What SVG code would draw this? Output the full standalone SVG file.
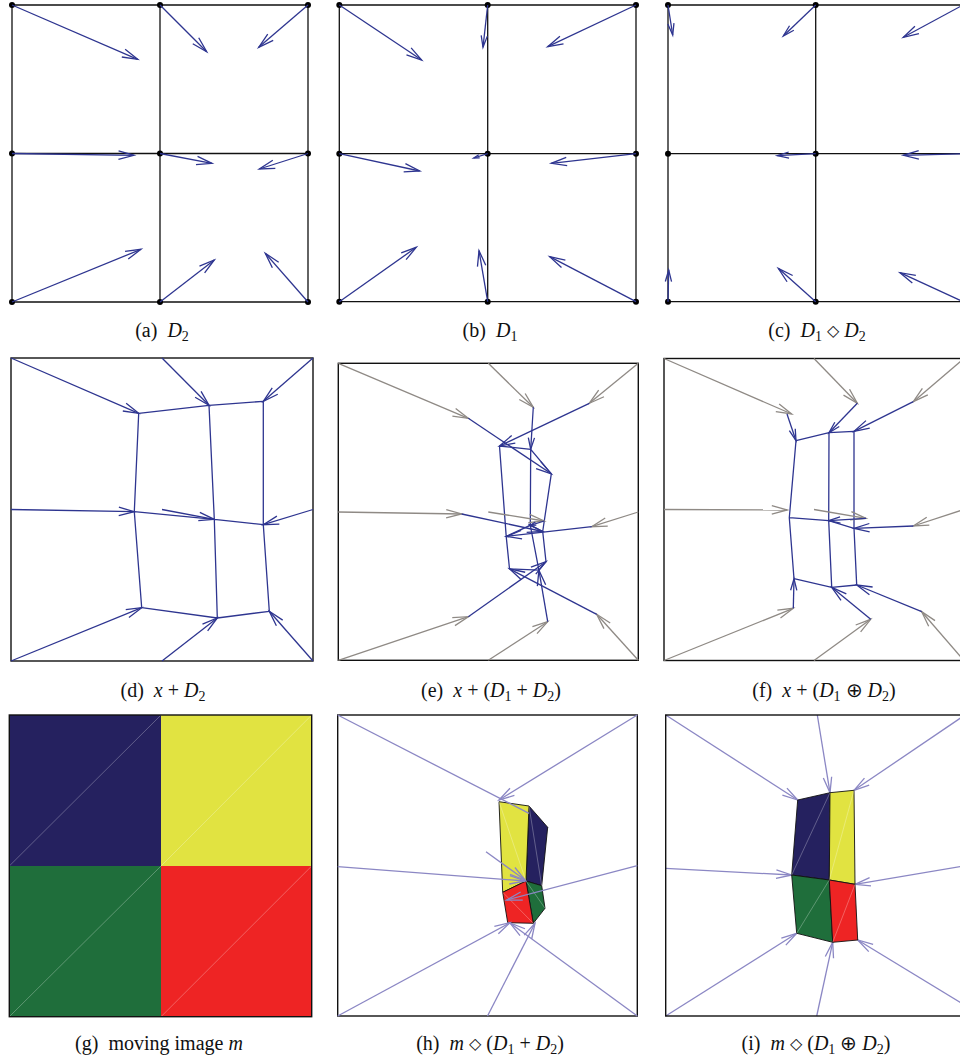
<svg xmlns="http://www.w3.org/2000/svg" width="960" height="1061" viewBox="0 0 960 1061">
<style>
.grid{stroke:#111;stroke-width:1.3;fill:none}
.frame{stroke:#111;stroke-width:1.4;fill:none}
.dot{fill:#000}
.ab{stroke:#2e3590;stroke-width:1.3;fill:none}
.ag{stroke:#8f8a85;stroke-width:1.3;fill:none}
.al{stroke:#8b87c4;stroke-width:1.3;fill:none}
.edge{stroke:#111;stroke-width:0.9}
.diag{stroke:#ffffff;stroke-opacity:0.4;stroke-width:0.7}
.cap{font-family:"Liberation Serif","Times New Roman",serif;font-size:20px;fill:#111;text-anchor:middle;white-space:pre}
.i{font-style:italic}
.s{font-size:14px}
.op{font-family:"DejaVu Sans",sans-serif;font-size:16px}
</style>
<defs>
<marker id="bL" markerUnits="userSpaceOnUse" orient="auto" overflow="visible" markerWidth="1" markerHeight="1"><path d="M-15.5,-4.2L0,0L-15.5,4.2" fill="none" stroke="#2e3590" stroke-width="1.3"/></marker>
<marker id="bM" markerUnits="userSpaceOnUse" orient="auto" overflow="visible" markerWidth="1" markerHeight="1"><path d="M-11.6,-3.1L0,0L-11.6,3.1" fill="none" stroke="#2e3590" stroke-width="1.3"/></marker>
<marker id="bS" markerUnits="userSpaceOnUse" orient="auto" overflow="visible" markerWidth="1" markerHeight="1"><path d="M-5.8,-1.6L0,0L-5.8,1.6" fill="none" stroke="#2e3590" stroke-width="1.3"/></marker>
<marker id="gL" markerUnits="userSpaceOnUse" orient="auto" overflow="visible" markerWidth="1" markerHeight="1"><path d="M-15.5,-4.2L0,0L-15.5,4.2" fill="none" stroke="#8f8a85" stroke-width="1.3"/></marker>
<marker id="lL" markerUnits="userSpaceOnUse" orient="auto" overflow="visible" markerWidth="1" markerHeight="1"><path d="M-15.5,-4.2L0,0L-15.5,4.2" fill="none" stroke="#8b87c4" stroke-width="1.3"/></marker>
</defs>
<rect width="960" height="1061" fill="#fff"/>

<!-- (a) D2 -->
<g id="panel-a">
<path class="grid" d="M12,5H308M12,153.5H308M12,302H308M12,5V302M160,5V302M308,5V302"/>
<g class="dot"><circle cx="12" cy="5" r="3"/><circle cx="160" cy="5" r="3"/><circle cx="308" cy="5" r="3"/><circle cx="12" cy="153.5" r="3"/><circle cx="160" cy="153.5" r="3"/><circle cx="308" cy="153.5" r="3"/><circle cx="12" cy="302" r="3"/><circle cx="160" cy="302" r="3"/><circle cx="308" cy="302" r="3"/></g>
</g>
<g id="connectors-a" class="ab" marker-end="url(#bL)">
<line x1="12" y1="5" x2="137.7" y2="59.3"/>
<line x1="160" y1="5" x2="206.7" y2="51.7"/>
<line x1="308" y1="5" x2="258.7" y2="47.3"/>
<line x1="12" y1="153.5" x2="134" y2="155.3"/>
<line x1="160" y1="153.5" x2="212" y2="163.3"/>
<line x1="308" y1="153.5" x2="259.3" y2="169"/>
<line x1="12" y1="302" x2="141" y2="249.3"/>
<line x1="160" y1="302" x2="214.3" y2="260"/>
<line x1="308" y1="302" x2="265.3" y2="253.3"/>
</g>

<!-- (b) D1 -->
<g id="panel-b">
<path class="grid" d="M339.3,5H636M339.3,153.7H636M339.3,301.7H636M339.3,5V301.7M487.7,5V301.7M636,5V301.7"/>
<g class="dot"><circle cx="339.3" cy="5" r="3"/><circle cx="487.7" cy="5" r="3"/><circle cx="636" cy="5" r="3"/><circle cx="339.3" cy="153.7" r="3"/><circle cx="487.7" cy="153.7" r="3"/><circle cx="636" cy="153.7" r="3"/><circle cx="339.3" cy="301.7" r="3"/><circle cx="487.7" cy="301.7" r="3"/><circle cx="636" cy="301.7" r="3"/></g>
</g>
<g id="connectors-b" class="ab" marker-end="url(#bL)">
<line x1="339.3" y1="5" x2="421.7" y2="60"/>
<line x1="487.7" y1="5" x2="483" y2="47.3" marker-end="url(#bM)"/>
<line x1="636" y1="5" x2="547.7" y2="46.7"/>
<line x1="339.3" y1="153.7" x2="419.7" y2="171"/>
<line x1="487.7" y1="153.7" x2="473.7" y2="158" marker-end="url(#bS)"/>
<line x1="636" y1="153.7" x2="551.3" y2="163.3"/>
<line x1="339.3" y1="301.7" x2="416.3" y2="247.3"/>
<line x1="487.7" y1="301.7" x2="479" y2="250.7"/>
<line x1="636" y1="301.7" x2="549.7" y2="256.7"/>
</g>

<!-- (c) D1 <> D2 -->
<g id="panel-c">
<path class="grid" d="M668,5H963M668,153.7H963M668,301.7H963M668,5V301.7M815.7,5V301.7M963,5V301.7"/>
<g class="dot"><circle cx="668" cy="5" r="3"/><circle cx="815.7" cy="5" r="3"/><circle cx="668" cy="153.7" r="3"/><circle cx="815.7" cy="153.7" r="3"/><circle cx="668" cy="301.7" r="3"/><circle cx="815.7" cy="301.7" r="3"/></g>
</g>
<g id="connectors-c" class="ab" marker-end="url(#bL)">
<line x1="668" y1="5" x2="672.7" y2="35" marker-end="url(#bM)"/>
<line x1="815.7" y1="5" x2="783.3" y2="36" marker-end="url(#bM)"/>
<line x1="963" y1="5" x2="903.3" y2="37.3"/>
<line x1="815.7" y1="153.7" x2="777.3" y2="155.7" marker-end="url(#bM)"/>
<line x1="963" y1="153.7" x2="903.3" y2="155.3"/>
<line x1="668" y1="301.7" x2="668.7" y2="270" marker-end="url(#bM)"/>
<line x1="815.7" y1="301.7" x2="778.3" y2="268.3"/>
<line x1="963" y1="301.7" x2="900" y2="272.7"/>
</g>

<!-- (d) x + D2 -->
<g id="panel-d">
<rect class="frame" x="11" y="358" width="302" height="303"/>
<path class="ab" d="M138.7,413.3L209,405.3L263.3,401.3M134.3,511.7L214.3,519.3L263.3,524.7M141.7,607.7L217.3,618L269.3,611.3M138.7,413.3L134.3,511.7L141.7,607.7M209,405.3L214.3,519.3L217.3,618M263.3,401.3L263.3,524.7L269.3,611.3"/>
</g>
<g id="connectors-d" class="ab" marker-end="url(#bL)">
<line x1="11" y1="358" x2="138.7" y2="413.3"/>
<line x1="162" y1="358" x2="209" y2="405.3"/>
<line x1="313" y1="358" x2="263.3" y2="401.3"/>
<line x1="11" y1="509.5" x2="134.3" y2="511.7"/>
<line x1="162" y1="509.5" x2="214.3" y2="519.3"/>
<line x1="313" y1="509.5" x2="263.3" y2="524.7"/>
<line x1="11" y1="661" x2="141.7" y2="607.7"/>
<line x1="162" y1="661" x2="217.3" y2="618"/>
<line x1="313" y1="661" x2="269.3" y2="611.3"/>
</g>

<!-- (e) x + (D1 + D2) -->
<g id="panel-e">
<rect class="frame" x="338.3" y="363.3" width="300" height="297"/>
<path class="ab" d="M551.3,473.8L530.7,449.3L499.5,446M542.7,531.5L530.3,525.3L506.2,536.4M546,561.7L538.9,570.2L509.5,568.8M551.3,473.8L542.7,531.5L546,561.7M530.7,449.3L530.3,525.3L538.9,570.2M499.5,446L506.2,536.4L509.5,568.8"/>
</g>
<g id="connectors-e-grey" class="ag" marker-end="url(#gL)">
<line x1="338.3" y1="363.3" x2="468.3" y2="418.3"/>
<line x1="488.3" y1="363.3" x2="533.3" y2="407.3"/>
<line x1="638.3" y1="363.3" x2="589.3" y2="403.3"/>
<line x1="338.3" y1="512" x2="461.7" y2="514"/>
<line x1="488.3" y1="512" x2="544.3" y2="521"/>
<line x1="638.3" y1="512" x2="591.7" y2="526.7"/>
<line x1="338.3" y1="660.3" x2="468.3" y2="616.7"/>
<line x1="488.3" y1="660.3" x2="547.7" y2="621.7"/>
<line x1="638.3" y1="660.3" x2="596.7" y2="614.3"/>
</g>
<g id="connectors-e-blue" class="ab" marker-end="url(#bL)">
<line x1="468.3" y1="418.3" x2="551.3" y2="473.8"/>
<line x1="533.3" y1="407.3" x2="530.7" y2="449.3" marker-end="url(#bM)"/>
<line x1="589.3" y1="403.3" x2="499.5" y2="446"/>
<line x1="461.7" y1="514" x2="542.7" y2="531.5"/>
<line x1="544.3" y1="521" x2="530.3" y2="525.3" marker-end="url(#bS)"/>
<line x1="591.7" y1="526.7" x2="506.2" y2="536.4"/>
<line x1="468.3" y1="616.7" x2="546" y2="561.7"/>
<line x1="547.7" y1="621.7" x2="538.9" y2="570.2"/>
<line x1="596.7" y1="614.3" x2="509.5" y2="568.8"/>
</g>

<!-- (f) x + (D1 (+) D2) -->
<g id="panel-f">
<rect class="frame" x="664" y="358.5" width="300" height="302"/>
<path class="ab" d="M796,440.7L829,432.7L854,431.3M789.3,517.7L828.7,520.7L854,528.3M794,578.7L831.7,587.3L856.7,585M796,440.7L789.3,517.7L794,578.7M829,432.7L828.7,520.7L831.7,587.3M854,431.3L854,528.3L856.7,585"/>
</g>
<g id="connectors-f-grey" class="ag" marker-end="url(#gL)">
<line x1="664" y1="358.5" x2="791.7" y2="414"/>
<line x1="814" y1="358.5" x2="857.3" y2="403.3"/>
<line x1="964" y1="358.5" x2="913.3" y2="401.7"/>
<line x1="664" y1="509.5" x2="787.3" y2="510"/>
<line x1="814" y1="509.5" x2="866" y2="518.3"/>
<line x1="964" y1="509.5" x2="913.3" y2="526"/>
<line x1="664" y1="660.5" x2="793.3" y2="608.3"/>
<line x1="814" y1="660.5" x2="870.7" y2="619.3"/>
<line x1="964" y1="660.5" x2="921.7" y2="611.7"/>
</g>
<g id="connectors-f-blue" class="ab" marker-end="url(#bM)">
<line x1="787" y1="414" x2="796" y2="440.7"/>
<line x1="857.3" y1="403.3" x2="829" y2="432.7"/>
<line x1="913.3" y1="401.7" x2="854" y2="431.3" marker-end="url(#bL)"/>
<line x1="866" y1="518.3" x2="828.7" y2="520.7"/>
<line x1="913.3" y1="526" x2="854" y2="528.3" marker-end="url(#bL)"/>
<line x1="793.3" y1="608.3" x2="794" y2="578.7"/>
<line x1="870.7" y1="619.3" x2="831.7" y2="587.3" marker-end="url(#bL)"/>
<line x1="921.7" y1="611.7" x2="856.7" y2="585" marker-end="url(#bL)"/>
</g>

<!-- (g) moving image m -->
<g id="panel-g">
<rect x="9.3" y="715" width="151.7" height="151" fill="#25215f"/>
<rect x="161" y="715" width="150.7" height="151" fill="#e1e341"/>
<rect x="9.3" y="866" width="151.7" height="150.7" fill="#1f6e3b"/>
<rect x="161" y="866" width="150.7" height="150.7" fill="#ee2424"/>
<path class="diag" d="M9.3,866L161,715M161,866L311.7,715M9.3,1016.7L161,866M161,1016.7L311.7,866"/>
<rect class="frame" x="9.3" y="715" width="302.4" height="301.7"/>
</g>

<!-- (h) m <> (D1 + D2) -->
<g id="panel-h">
<rect class="frame" x="337.7" y="715" width="299.6" height="301"/>
<polygon class="edge" fill="#25215f" points="547.7,827.3 529,806 526,881 541.7,885.7"/>
<polygon class="edge" fill="#e1e341" points="529,806 499,801.7 502.7,892.3 526,881"/>
<polygon class="edge" fill="#1f6e3b" points="541.7,885.7 526,881 533.3,923.3 545,908.3"/>
<polygon class="edge" fill="#ee2424" points="526,881 502.7,892.3 507.7,922.7 533.3,923.3"/>
<path class="diag" d="M541.7,885.7L529,806M526,881L499,801.7M545,908.3L526,881M533.3,923.3L502.7,892.3"/>
</g>
<g id="connectors-h" class="al" marker-end="url(#lL)">
<line x1="337.7" y1="715" x2="529" y2="813.3" marker-end="none"/>
<line x1="637.3" y1="715" x2="499" y2="800"/>
<line x1="337.7" y1="866.7" x2="525" y2="881"/>
<line x1="486" y1="851.7" x2="525" y2="880"/>
<line x1="637.3" y1="865.7" x2="506.7" y2="900"/>
<line x1="337.7" y1="1016" x2="510" y2="922.7"/>
<line x1="487.5" y1="1016" x2="535" y2="923.3"/>
<line x1="637.3" y1="1016" x2="510" y2="923"/>
</g>

<!-- (i) m <> (D1 (+) D2) -->
<g id="connectors-i" class="al" marker-end="url(#lL)">
<line x1="665.7" y1="715" x2="797.7" y2="800"/>
<line x1="817.3" y1="715" x2="830" y2="792.7"/>
<line x1="965" y1="715" x2="854" y2="790.3"/>
<line x1="665.7" y1="868.3" x2="791.7" y2="875"/>
<line x1="965" y1="865.7" x2="855" y2="884.3"/>
<line x1="665.7" y1="1016" x2="796.7" y2="933.3"/>
<line x1="816.7" y1="1016" x2="832.7" y2="942.3"/>
<line x1="962" y1="1003.5" x2="857.7" y2="940"/>
</g>
<g id="panel-i">
<rect class="frame" x="665.7" y="715" width="299.3" height="301"/>
<polygon class="edge" fill="#25215f" points="797.7,800 830,792.7 829.3,880 791.7,875"/>
<polygon class="edge" fill="#e1e341" points="830,792.7 854,790.3 855,884.3 829.3,880"/>
<polygon class="edge" fill="#1f6e3b" points="791.7,875 829.3,880 832.7,942.3 796.7,933.3"/>
<polygon class="edge" fill="#ee2424" points="829.3,880 855,884.3 857.7,940 832.7,942.3"/>
<path class="diag" d="M791.7,875L830,792.7M829.3,880L854,790.3M796.7,933.3L829.3,880M832.7,942.3L855,884.3"/>
</g>

<!-- captions -->
<g id="captions" class="cap">
<text x="162" y="337" xml:space="preserve">(a)  <tspan class="i">D</tspan><tspan class="s" dy="4">2</tspan></text>
<text x="490" y="337" xml:space="preserve">(b)  <tspan class="i">D</tspan><tspan class="s" dy="4">1</tspan></text>
<text x="817" y="337" xml:space="preserve">(c)  <tspan class="i">D</tspan><tspan class="s" dy="4">1</tspan><tspan class="op" dy="-5" dx="5">◇</tspan><tspan class="i" dy="1" dx="5">D</tspan><tspan class="s" dy="4">2</tspan></text>
<text x="163" y="697" xml:space="preserve">(d)  <tspan class="i">x</tspan> + <tspan class="i">D</tspan><tspan class="s" dy="4">2</tspan></text>
<text x="491" y="697" xml:space="preserve">(e)  <tspan class="i">x</tspan> + (<tspan class="i">D</tspan><tspan class="s" dy="4">1</tspan><tspan dy="-4"> + </tspan><tspan class="i">D</tspan><tspan class="s" dy="4">2</tspan><tspan dy="-4">)</tspan></text>
<text x="824" y="697" xml:space="preserve">(f)  <tspan class="i">x</tspan> + (<tspan class="i">D</tspan><tspan class="s" dy="4">1</tspan><tspan dy="-4"> ⊕ </tspan><tspan class="i">D</tspan><tspan class="s" dy="4">2</tspan><tspan dy="-4">)</tspan></text>
<text x="159" y="1050" xml:space="preserve">(g)  moving image <tspan class="i">m</tspan></text>
<text x="490" y="1050" xml:space="preserve">(h)  <tspan class="i">m</tspan><tspan class="op" dx="5" dy="-1">◇</tspan><tspan dx="5" dy="1">(</tspan><tspan class="i">D</tspan><tspan class="s" dy="4">1</tspan><tspan dy="-4"> + </tspan><tspan class="i">D</tspan><tspan class="s" dy="4">2</tspan><tspan dy="-4">)</tspan></text>
<text x="816" y="1050" xml:space="preserve">(i)  <tspan class="i">m</tspan><tspan class="op" dx="5" dy="-1">◇</tspan><tspan dx="5" dy="1">(</tspan><tspan class="i">D</tspan><tspan class="s" dy="4">1</tspan><tspan dy="-4"> ⊕ </tspan><tspan class="i">D</tspan><tspan class="s" dy="4">2</tspan><tspan dy="-4">)</tspan></text>
</g>
</svg>
